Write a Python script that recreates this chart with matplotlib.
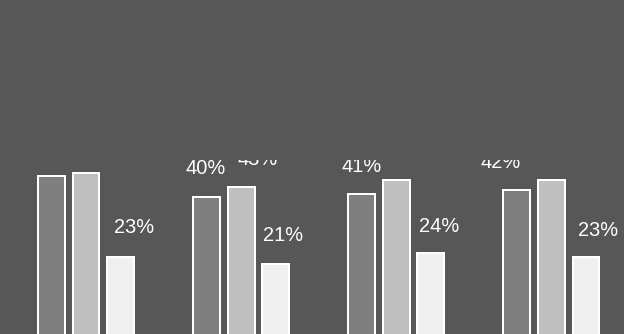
import matplotlib
matplotlib.use("Agg")
import matplotlib.pyplot as plt
import numpy as np

# Grouped percentages, three series per group
groups = ["Group 1", "Group 2", "Group 3", "Group 4"]
series_1 = [46, 40, 41, 42]
series_2 = [47, 43, 45, 45]
series_3 = [23, 21, 24, 23]

series = [series_1, series_2, series_3]
face_colors = ["#7f7f7f", "#bfbfbf", "#f0f0f0"]
bg = "#575757"

# Nudges (pixels) applied to each value label: horizontal, and gap above the bar
label_nudge_px = [
    [-12, -0.5, 0.6, -16],
    [12, 17, 0, 0],
    [13.5, 7.7, 7.8, 11.6],
]
label_gap_px = [
    [22, 23, 21.5, 22],
    [22, 22, 22, 22],
    [24, 23, 21.5, 21],
]

DPI = 100
W, H = 624, 334
fig = plt.figure(figsize=(W / DPI, H / DPI), dpi=DPI, facecolor=bg)

# plot area: from y=160px (top) down to just below the figure edge
top_px, base_px = 160, 337
ax = fig.add_axes([0, (H - base_px) / H, 1, (base_px - top_px) / H])
ax.set_facecolor(bg)
px_per_unit = 3.49
ax.set_ylim(0, (base_px - top_px) / px_per_unit)

x = np.arange(len(groups))
ax.set_xlim(-0.5545, 3.469)
width = 0.174
step = 0.224
px2pt = 72.0 / DPI

for i, vals in enumerate(series):
    offs = (i - 1) * step
    ax.bar(x + offs, vals, width=width, color=face_colors[i],
           edgecolor="white", linewidth=2 * px2pt)
    for j, v in enumerate(vals):
        ax.annotate(f"{v}%", xy=(x[j] + offs, v),
                    xytext=(label_nudge_px[i][j] * px2pt,
                            label_gap_px[i][j] * px2pt),
                    textcoords="offset points", ha="center", va="baseline",
                    color="white", fontsize=14.4, family="Liberation Sans",
                    clip_on=True)

for s in ax.spines.values():
    s.set_visible(False)
ax.set_xticks([])
ax.set_yticks([])

fig.savefig("out.png", dpi=DPI, facecolor=bg)
